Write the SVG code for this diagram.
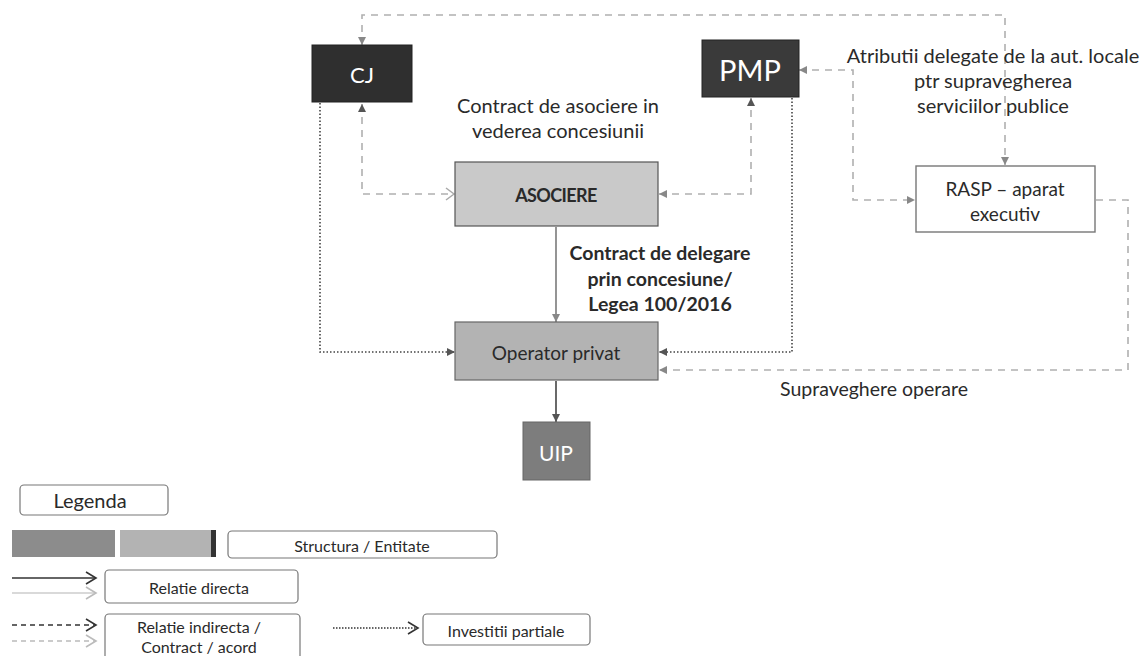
<svg xmlns="http://www.w3.org/2000/svg" width="1144" height="656" viewBox="0 0 1144 656">
<defs>
<style>
text{font-family:Lato,"Liberation Sans",sans-serif;fill:#2a2a2a;}
.dark{stroke:#222;stroke-width:1;}
.lbl{font-size:19px;}
.wt{fill:#fff;}
.dash{fill:none;stroke:#b0b0b0;stroke-width:1.6;stroke-dasharray:7 6;}
.dot{fill:none;stroke:#444;stroke-width:1.6;stroke-dasharray:1.5 2;}
.solid{fill:none;stroke:#7a7a7a;stroke-width:1.6;}
.solidd{fill:none;stroke:#444;stroke-width:1.6;}
.leg{fill:#fff;stroke:#777;stroke-width:1.2;}
.lt{font-size:16px;}
</style>
<marker id="ag" markerWidth="10" markerHeight="10" refX="9" refY="5" orient="auto-start-reverse" markerUnits="userSpaceOnUse"><path d="M1,1 L9,5 L1,9 Z" fill="#888"/></marker>
<marker id="ad" markerWidth="10" markerHeight="10" refX="9" refY="5" orient="auto-start-reverse" markerUnits="userSpaceOnUse"><path d="M1,1 L9,5 L1,9 Z" fill="#555"/></marker>
<marker id="ao" markerWidth="12" markerHeight="14" refX="10" refY="7" orient="auto" markerUnits="userSpaceOnUse"><path d="M2,1 L10,7 L2,13" fill="none" stroke="#aaa" stroke-width="1.5"/></marker>
<marker id="lo" markerWidth="14" markerHeight="16" refX="12" refY="8" orient="auto" markerUnits="userSpaceOnUse"><path d="M2,2 L12,8 L2,14" fill="none" stroke="#333" stroke-width="1.6"/></marker>
<marker id="lol" markerWidth="14" markerHeight="16" refX="12" refY="8" orient="auto" markerUnits="userSpaceOnUse"><path d="M2,2 L12,8 L2,14" fill="none" stroke="#bbb" stroke-width="1.6"/></marker>
</defs>
<rect width="1144" height="656" fill="#fff"/>

<g id="connectors">
<path class="dash" d="M362,45 V15 H1005 V165" marker-start="url(#ag)" marker-end="url(#ag)"/>
<path class="dash" d="M362,104 V194 H454" marker-start="url(#ad)" marker-end="url(#ao)"/>
<path class="dash" d="M659,194 H751 V98" marker-start="url(#ag)" marker-end="url(#ad)"/>
<path class="dash" d="M799,70 H853 V200 H915" marker-start="url(#ag)" marker-end="url(#ag)"/>
<path class="dash" d="M1096,200 H1128 V370 H659" marker-end="url(#ag)"/>
<path class="solid" d="M556,227 V322" marker-end="url(#ag)"/>
<path class="solidd" d="M556,381 V422" marker-end="url(#ad)"/>
<path class="dot" d="M320,103 V352 H455" marker-end="url(#ad)"/>
<path class="dot" d="M792,98 V352 H659" marker-end="url(#ad)"/>
</g>

<g id="node-cj">
<rect class="dark" x="312" y="45" width="100" height="57" fill="#2f2f2f"/>
<text class="wt" x="362" y="74" font-size="22" text-anchor="middle" dominant-baseline="central">CJ</text>
</g>
<g id="node-pmp">
<rect class="dark" x="702" y="40" width="97" height="57" fill="#3a3a3a"/>
<text class="wt" x="750" y="69" font-size="29" text-anchor="middle" dominant-baseline="central">PMP</text>
</g>
<g id="node-asociere">
<rect x="455" y="162" width="203" height="64" fill="#c9c9c9" stroke="#555" stroke-width="1.2"/>
<text x="556" y="195" font-size="18" font-weight="bold" letter-spacing="-0.6" text-anchor="middle" dominant-baseline="central">ASOCIERE</text>
</g>
<g id="node-operator">
<rect x="455" y="322" width="203" height="58" fill="#b3b3b3" stroke="#666" stroke-width="1.2"/>
<text x="556" y="352" font-size="19" text-anchor="middle" dominant-baseline="central">Operator privat</text>
</g>
<g id="node-uip">
<rect x="523" y="422" width="67" height="58" fill="#7d7d7d" stroke="#666" stroke-width="1"/>
<text class="wt" x="556" y="452" font-size="21" text-anchor="middle" dominant-baseline="central">UIP</text>
</g>
<g id="node-rasp">
<rect x="916" y="166" width="179" height="66" fill="#fff" stroke="#777" stroke-width="1.4"/>
<text class="lbl" x="1005" y="188" text-anchor="middle" dominant-baseline="central">RASP – aparat</text>
<text class="lbl" x="1005" y="213" text-anchor="middle" dominant-baseline="central">executiv</text>
</g>

<g id="labels">
<text x="558" y="105" font-size="20" text-anchor="middle" dominant-baseline="central">Contract de asociere in</text>
<text x="558" y="130" font-size="20" text-anchor="middle" dominant-baseline="central">vederea concesiunii</text>
<text x="660" y="252" font-size="19.5" font-weight="bold" text-anchor="middle" dominant-baseline="central">Contract de delegare</text>
<text x="660" y="278" font-size="19.5" font-weight="bold" text-anchor="middle" dominant-baseline="central">prin concesiune/</text>
<text x="660" y="303" font-size="19.5" font-weight="bold" text-anchor="middle" dominant-baseline="central">Legea 100/2016</text>
<text x="993" y="55" font-size="20" text-anchor="middle" dominant-baseline="central">Atributii delegate de la aut. locale</text>
<text x="993" y="80" font-size="20" text-anchor="middle" dominant-baseline="central">ptr supravegherea</text>
<text x="993" y="105" font-size="20" text-anchor="middle" dominant-baseline="central">serviciilor publice</text>
<text x="874" y="388" font-size="19.5" text-anchor="middle" dominant-baseline="central">Supraveghere operare</text>
</g>

<g id="legend">
<rect class="leg" x="20" y="485" width="148" height="30" rx="4"/>
<text x="90" y="500" font-size="20" text-anchor="middle" dominant-baseline="central">Legenda</text>
<rect x="12" y="530" width="103" height="27" fill="#8c8c8c"/>
<rect x="120" y="530" width="92" height="27" fill="#b3b3b3"/>
<rect x="211" y="530" width="5" height="27" fill="#333"/>
<rect class="leg" x="228" y="531" width="269" height="27" rx="4"/>
<text class="lt" x="362" y="545" text-anchor="middle" dominant-baseline="central">Structura / Entitate</text>
<path d="M12,578 H96" stroke="#333" stroke-width="1.6" fill="none" marker-end="url(#lo)"/>
<path d="M12,593 H96" stroke="#ccc" stroke-width="1.6" fill="none" marker-end="url(#lol)"/>
<rect class="leg" x="105" y="570" width="193" height="33" rx="4"/>
<text class="lt" x="199" y="587" text-anchor="middle" dominant-baseline="central">Relatie directa</text>
<path d="M12,625 H96" stroke="#333" stroke-width="1.6" stroke-dasharray="5 4" fill="none" marker-end="url(#lo)"/>
<path d="M12,641 H96" stroke="#bbb" stroke-width="1.6" stroke-dasharray="5 4" fill="none" marker-end="url(#lol)"/>
<rect class="leg" x="105" y="614" width="195" height="46" rx="4"/>
<text class="lt" x="199" y="626" text-anchor="middle" dominant-baseline="central">Relatie indirecta /</text>
<text class="lt" x="199" y="646" text-anchor="middle" dominant-baseline="central">Contract / acord</text>
<path d="M333,628 H418" stroke="#333" stroke-width="1.6" stroke-dasharray="1.5 1.5" fill="none" marker-end="url(#lo)"/>
<rect class="leg" x="423" y="614" width="167" height="31" rx="4"/>
<text class="lt" x="506" y="630" text-anchor="middle" dominant-baseline="central">Investitii partiale</text>
</g>
</svg>
